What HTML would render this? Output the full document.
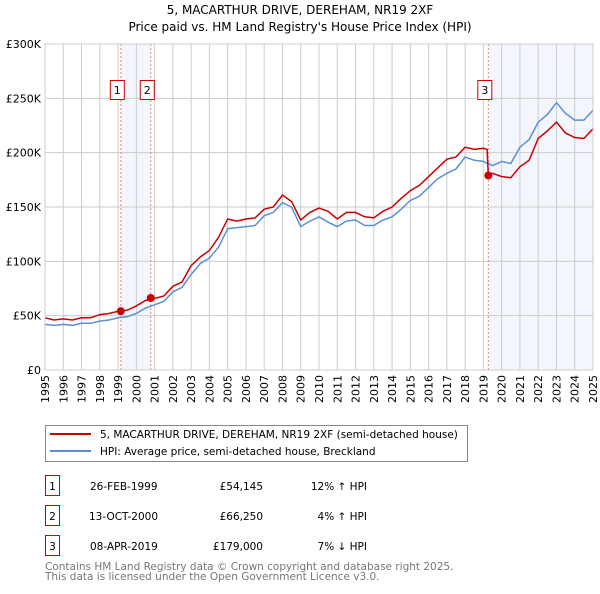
<!DOCTYPE html>
<html><head><meta charset="utf-8"><style>
body{margin:0;background:#fff;font-family:"DejaVu Sans","Liberation Sans",sans-serif;}
svg text{font-family:"DejaVu Sans","Liberation Sans",sans-serif;}
</style></head><body>
<svg id="c" width="600" height="590" xmlns="http://www.w3.org/2000/svg">
<text x="300" y="14" text-anchor="middle" font-size="12">5, MACARTHUR DRIVE, DEREHAM, NR19 2XF</text>
<text x="300" y="31" text-anchor="middle" font-size="12">Price paid vs. HM Land Registry's House Price Index (HPI)</text>
<g id="plot"></g>
<g>
<rect x="45.5" y="425.5" width="422" height="36" fill="#fff" stroke="#888"/>
<line x1="50" y1="434" x2="91" y2="434" stroke="#cc0000" stroke-width="2"/>
<text x="100" y="438" font-size="10.5">5, MACARTHUR DRIVE, DEREHAM, NR19 2XF (semi-detached house)</text>
<line x1="50" y1="451" x2="91" y2="451" stroke="#5b8fd4" stroke-width="2"/>
<text x="100" y="455" font-size="10.5">HPI: Average price, semi-detached house, Breckland</text>
</g>
<g font-size="10.5">
<rect x="45.5" y="475.5" width="14" height="20" fill="none" stroke="#cc0000"/><text x="52.5" y="490" text-anchor="middle">1</text>
<text x="90" y="490">26-FEB-1999</text><text x="263" y="490" text-anchor="end">£54,145</text><text x="367" y="490" text-anchor="end">12% ↑ HPI</text>
<rect x="45.5" y="505.5" width="14" height="20" fill="none" stroke="#cc0000"/><text x="52.5" y="520" text-anchor="middle">2</text>
<text x="89" y="520">13-OCT-2000</text><text x="263" y="520" text-anchor="end">£66,250</text><text x="367" y="520" text-anchor="end">4% ↑ HPI</text>
<rect x="45.5" y="535.5" width="14" height="20" fill="none" stroke="#cc0000"/><text x="52.5" y="550" text-anchor="middle">3</text>
<text x="90" y="550">08-APR-2019</text><text x="263" y="550" text-anchor="end">£179,000</text><text x="367" y="550" text-anchor="end">7% ↓ HPI</text>
</g>
<text x="45" y="570" font-size="10.5" fill="#777">Contains HM Land Registry data © Crown copyright and database right 2025.</text>
<text x="45" y="580" font-size="10.5" fill="#777">This data is licensed under the Open Government Licence v3.0.</text>
</svg>
<script>
const years=[1995,1995.5,1996,1996.5,1997,1997.5,1998,1998.5,1999,1999.5,2000,2000.5,2001,2001.5,2002,2002.5,2003,2003.5,2004,2004.5,2005,2005.5,2006,2006.5,2007,2007.5,2008,2008.5,2009,2009.5,2010,2010.5,2011,2011.5,2012,2012.5,2013,2013.5,2014,2014.5,2015,2015.5,2016,2016.5,2017,2017.5,2018,2018.5,2019,2019.2,2019.27,2019.5,2020,2020.5,2021,2021.5,2022,2022.5,2023,2023.5,2024,2024.5,2025];
const hpiValues=[42,41,42,41,43,43,45,46,48,49,52,57,60,63,72,76,88,98,103,113,130,131,132,133,142,145,154,150,132,137,141,136,132,137,138,133,133,138,141,148,156,160,168,176,181,185,196,193,192,190,190,188,192,190,205,212,228,235,246,236,230,230,239];
const propValues=[48,46,47,46,48,48,51,52,54,55,59,64,66,68,77,81,96,104,110,122,139,137,139,140,148,150,161,155,138,145,149,146,139,145,145,141,140,146,150,158,165,170,178,186,194,196,205,203,204,203,179,181,178,177,187,193,213,220,228,218,214,213,222];
const saleYears=[1999.15,2000.79,2019.27];
const salePrices=[54.145,66.25,179];
const saleLabels=["1","2","3"];
const yTicks=[0,50,100,150,200,250,300];
const yTickLabels=["£0","£50K","£100K","£150K","£200K","£250K","£300K"];
const xTicks=[1995,1996,1997,1998,1999,2000,2001,2002,2003,2004,2005,2006,2007,2008,2009,2010,2011,2012,2013,2014,2015,2016,2017,2018,2019,2020,2021,2022,2023,2024,2025];

const X0=45,X1=593,Y0=370,Y1=44;
const xs=y=>X0+(y-1995)/30*(X1-X0);
const ys=v=>Y0-v/300*(Y0-Y1);
const NS="http://www.w3.org/2000/svg";
const g=document.getElementById('plot');
function mk(t,a,p){const e=document.createElementNS(NS,t);for(const k in a)e.setAttribute(k,a[k]);(p||g).appendChild(e);return e;}

let r=mk('rect',{x:xs(saleYears[0]),y:Y1,width:xs(saleYears[1])-xs(saleYears[0]),height:Y0-Y1,fill:'#eef3fc',opacity:0.7});


r=mk('rect',{x:xs(saleYears[2]),y:Y1,width:X1-xs(saleYears[2]),height:Y0-Y1,fill:'#eef3fc',opacity:0.7});



xTicks.forEach(t=>{
 const l=mk('line',{x1:xs(t),x2:xs(t),y1:Y1,y2:Y0,stroke:'#ccc','stroke-width':1});
 
 
 const tx=mk('text',{x:0,y:0,'font-size':11,'text-anchor':'end',transform:`translate(${xs(t)+4},${Y0+5}) rotate(-90)`});
 tx.textContent=t;
 
 
});
yTicks.forEach((t,i)=>{
 const l=mk('line',{x1:X0,x2:X1,y1:ys(t),y2:ys(t),stroke:'#ccc','stroke-width':1});
 
 
 const tx=mk('text',{x:X0-4,y:ys(t)+4,'font-size':11,'text-anchor':'end'});
 tx.textContent=yTickLabels[i];
 
 
});
saleYears.forEach((s,i)=>{
 const l=mk('line',{x1:xs(s),x2:xs(s),y1:Y1,y2:Y0,stroke:'#f08080','stroke-width':1,'stroke-dasharray':'2,2'});
 
 
});
function path(vals,color,name){
 const d=years.map((y,i)=>(i?'L':'M')+xs(y).toFixed(1)+','+ys(vals[i]).toFixed(1)).join('');
 const p=mk('path',{d:d,fill:'none',stroke:color,'stroke-width':1.5});
 
 
}
path(hpiValues,'#5b8fd4','hpi-line');
path(propValues,'#cc0000','property-line');
saleYears.forEach((s,i)=>{
 const c=mk('circle',{cx:xs(s),cy:ys(salePrices[i]),r:4,fill:'#cc0000'});
 
 
 const bx=mk('rect',{x:xs(s)-10.5,y:80.5,width:14,height:19,fill:'#fff',stroke:'#cc0000'});
 
 
 const t=mk('text',{x:xs(s)-3.5,y:94,'font-size':11,'text-anchor':'middle'});
 t.textContent=saleLabels[i];
 
 
});
const f=mk('rect',{x:X0,y:Y1,width:X1-X0,height:Y0-Y1,fill:'none',stroke:'#ccc'});


</script>
</body></html>
